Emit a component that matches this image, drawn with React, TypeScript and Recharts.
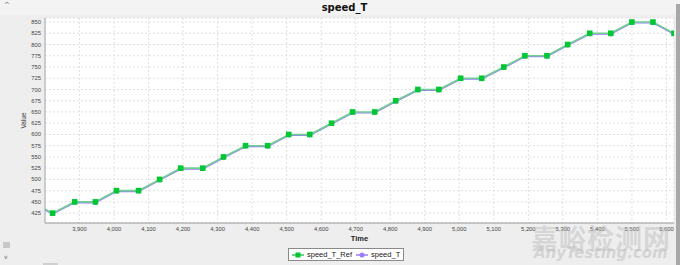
import React from 'react';
import { LineChart, Line, XAxis, YAxis, CartesianGrid, Legend } from 'recharts';

// time stamps (one sample before the visible window so the line enters from the left edge)
const times = [
  3760, 3822, 3886, 3946, 4007, 4071, 4132, 4193, 4257, 4317, 4381, 4445, 4506, 4567, 4630, 4691,
  4755, 4816, 4880, 4941, 5004, 5065, 5129, 5190, 5254, 5314, 5378, 5439, 5500, 5561, 5622,
];
const speedTRef = [
  450, 425, 450, 450, 475, 475, 500, 525, 525, 550, 575, 575, 600, 600, 625, 650,
  650, 675, 700, 700, 725, 725, 750, 775, 775, 800, 825, 825, 850, 850, 825,
];
const speedT = [
  448, 423, 448, 448, 473, 473, 498, 523, 523, 548, 573, 573, 598, 598, 623, 648,
  648, 673, 698, 698, 723, 723, 748, 773, 773, 798, 823, 823, 848, 848, 823,
];
const xTicks = [3900, 4000, 4100, 4200, 4300, 4400, 4500, 4600, 4700, 4800, 4900, 5000, 5100, 5200, 5300, 5400, 5500, 5600];
const yTicks = [425, 450, 475, 500, 525, 550, 575, 600, 625, 650, 675, 700, 725, 750, 775, 800, 825, 850];

const chartData = times.map((t, i) => ({ t, speed_T_Ref: speedTRef[i], speed_T: speedT[i] }));

const GREEN = '#00c832';
const GREEN_LINE = '#6fd08e';
const PURPLE = '#9a7cff';
const tickStyle = { fontSize: 5.8, fill: '#444', fontFamily: 'Liberation Sans, Arial, sans-serif' };

const SquareDot = (props: any) => {
  const { cx, cy, index } = props;
  if (cx == null || cy == null) return <g key={`sq-${index}`} />;
  return <rect key={`sq-${index}`} x={cx - 2.8} y={cy - 2.8} width={5.6} height={5.6} fill={GREEN} />;
};

const LegendBox = () => (
  <div
    style={{
      display: 'flex',
      alignItems: 'center',
      border: '1px solid #8a8a8a',
      background: '#fff',
      height: 11,
      padding: '0 3px',
      fontFamily: 'Liberation Sans, Arial, sans-serif',
      fontSize: 7.5,
      color: '#222',
      whiteSpace: 'nowrap',
    }}
  >
    <svg width={12} height={8} style={{ marginRight: 3 }}>
      <line x1={0} y1={4} x2={12} y2={4} stroke={GREEN_LINE} strokeWidth={2} />
      <rect x={3.5} y={1.5} width={5} height={5} fill={GREEN} />
    </svg>
    <span>speed_T_Ref</span>
    <svg width={12} height={8} style={{ marginLeft: 4, marginRight: 3 }}>
      <line x1={0} y1={4} x2={12} y2={4} stroke={PURPLE} strokeWidth={1.5} />
      <circle cx={6} cy={4} r={2.5} fill={PURPLE} />
    </svg>
    <span>speed_T</span>
  </div>
);

export default function App() {
  return (
    <div
      style={{
        position: 'absolute',
        left: 0,
        top: 0,
        width: 680,
        height: 265,
        background: '#eeeeee',
        overflow: 'hidden',
      }}
    >
      <div style={{ position: 'absolute', left: 0, top: 0, width: 680, height: 15, background: '#f3f3f3' }} />
      <div
        style={{
          position: 'absolute',
          left: 0,
          top: 2,
          width: 689,
          textAlign: 'center',
          fontFamily: 'DejaVu Sans, sans-serif',
          fontWeight: 'bold',
          fontSize: 10,
          color: '#111',
        }}
      >
        speed_T
      </div>
      <div style={{ position: 'absolute', left: 4, top: 1, fontSize: 7, color: '#666', fontFamily: 'DejaVu Sans, sans-serif' }}>^</div>
      <div style={{ position: 'absolute', left: 3, top: 242, width: 7, height: 6, background: '#c8c8c8' }} />
      <div style={{ position: 'absolute', left: 4, top: 253, fontSize: 6, color: '#666', fontFamily: 'DejaVu Sans, sans-serif' }}>v</div>
      <div style={{ position: 'absolute', left: 43, top: 263, width: 15, height: 2, background: '#d0d0d0' }} />
      <div style={{ position: 'absolute', left: 676, top: 4, width: 4, height: 261, background: '#a8a8a8' }} />

      <LineChart
        width={680}
        height={265}
        data={chartData}
        margin={{ top: 18, right: 6, left: 15, bottom: 30 }}
        style={{ position: 'absolute', left: 0, top: 0 }}
      >
        <CartesianGrid stroke="#e0e0e0" strokeDasharray="2 2" fill="#ffffff" />
        <XAxis
          dataKey="t"
          type="number"
          domain={[3800, 5622]}
          allowDataOverflow
          ticks={xTicks}
          interval={0}
          tickFormatter={(v: number) => v.toLocaleString('en-US')}
          tick={tickStyle}
          tickLine={false}
          tickSize={2}
          tickMargin={2}
          height={12}
          axisLine={{ stroke: '#9a9a9a' }}
          label={{
            value: 'Time',
            position: 'bottom',
            offset: 1,
            style: { fontSize: 7.5, fontWeight: 'bold', fill: '#222', fontFamily: 'Liberation Sans, Arial, sans-serif' },
          }}
        />
        <XAxis xAxisId="top" orientation="top" height={0} tick={false} tickLine={false} axisLine={{ stroke: '#cfcfcf' }} />
        <YAxis
          type="number"
          domain={[403, 859]}
          allowDataOverflow
          ticks={yTicks}
          interval={0}
          tick={tickStyle}
          tickLine={false}
          tickSize={2}
          tickMargin={2}
          width={30}
          axisLine={{ stroke: '#a8a8a8' }}
          label={{
            value: 'Value',
            angle: -90,
            position: 'insideLeft',
            offset: 9,
            style: { fontSize: 6.5, fill: '#333', textAnchor: 'middle', fontFamily: 'Liberation Sans, Arial, sans-serif' },
          }}
        />
        <YAxis yAxisId="right" orientation="right" width={0} tick={false} tickLine={false} axisLine={{ stroke: '#cfcfcf' }} />
        <Legend
          verticalAlign="middle"
          align="center"
          wrapperStyle={{ top: 248, left: 288, width: 'auto' }}
          content={() => <LegendBox />}
        />
        <Line
          type="linear"
          dataKey="speed_T"
          stroke={PURPLE}
          strokeWidth={1.3}
          dot={{ r: 2.2, fill: PURPLE, stroke: 'none' }}
          isAnimationActive={false}
        />
        <Line
          type="linear"
          dataKey="speed_T_Ref"
          stroke={GREEN_LINE}
          strokeWidth={1.6}
          dot={SquareDot}
          isAnimationActive={false}
        />
      </LineChart>

      <div
        style={{
          position: 'absolute',
          left: 531,
          top: 218,
          fontFamily: 'Noto Sans CJK SC, sans-serif',
          fontWeight: 'bold',
          fontSize: 27,
          letterSpacing: 1,
          color: 'rgba(190,190,190,0.5)',
          pointerEvents: 'none',
        }}
      >
        嘉峪检测网
      </div>
      <div
        style={{
          position: 'absolute',
          left: 534,
          top: 244,
          fontFamily: 'DejaVu Sans, sans-serif',
          fontWeight: 'bold',
          fontStyle: 'italic',
          fontSize: 15,
          color: 'rgba(190,190,190,0.55)',
          pointerEvents: 'none',
        }}
      >
        AnyTesting.com
      </div>
    </div>
  );
}
